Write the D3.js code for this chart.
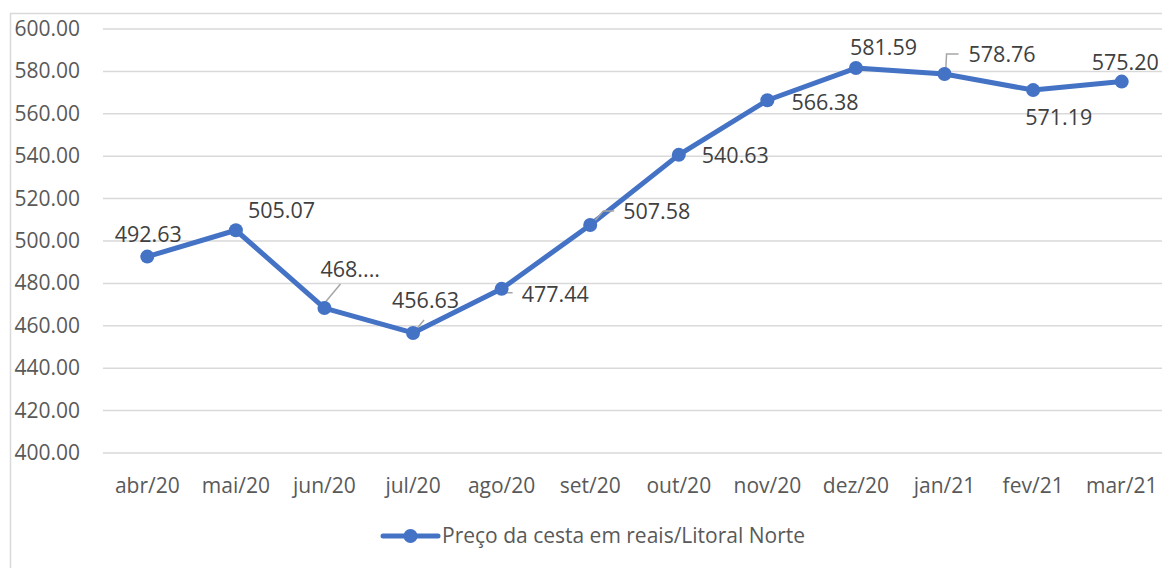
<!DOCTYPE html>
<html>
<head>
<meta charset="utf-8">
<script src="https://cdn.jsdelivr.net/npm/d3@7"></script>
<style>
  body { margin: 0; background: #fff; }
  text { font-family: "Open Sans", "Noto Sans", sans-serif; }
</style>
</head>
<body>
<div class="diagram"></div>
<script>
// data
const months = ["abr/20", "mai/20", "jun/20", "jul/20", "ago/20", "set/20",
                "out/20", "nov/20", "dez/20", "jan/21", "fev/21", "mar/21"];
const prices = [492.63, 505.07, 468.38, 456.63, 477.44, 507.58,
                540.63, 566.38, 581.59, 578.76, 571.19, 575.20];
const priceLabels = ["492.63", "505.07", "468....", "456.63", "477.44", "507.58",
                     "540.63", "566.38", "581.59", "578.76", "571.19", "575.20"];
const yTicks = [400, 420, 440, 460, 480, 500, 520, 540, 560, 580, 600];
const seriesName = "Preço da cesta em reais/Litoral Norte";

// label placement relative to the point: [dx, dy, anchor]
const labelPos = [
  [1, -15, "middle"], [12, -12, "start"], [-4, -31, "start"], [-21, -25, "start"],
  [20, 13, "start"], [33, -6, "start"], [23, 8, "start"], [24, 10, "start"],
  [-6, -13, "start"], [24, -12, "start"], [-8, 35, "start"], [-30, -12, "start"]
];
// leader lines (relative points), null where none
const leaders = [
  null, null, [[1, -6], [16, -24]], [[0, 0], [11, -13]],
  [[0, 0], [0, 4], [11, 4]], [[1, 0], [13, -14], [24, -14]],
  null, null, null, [[1, 0], [2, -20], [14, -20]], null, null
];

const W = 1162, H = 568;
const svg = d3.select(".diagram").append("svg")
  .attr("width", W).attr("height", H);

// chart frame
svg.append("rect")
  .attr("x", 10.5).attr("y", 13.5)
  .attr("width", 1300).attr("height", 700)
  .attr("fill", "none").attr("stroke", "#d9d9d9").attr("stroke-width", 1.5);

const x = d3.scaleBand().domain(months).range([103, 1166]);
const cx = d => x(d) + x.bandwidth() / 2;
const y = d3.scaleLinear().domain([400, 600]).range([453, 29]);

// gridlines
svg.append("g").selectAll("line").data(yTicks).join("line")
  .attr("x1", 103).attr("x2", 1166)
  .attr("y1", d => y(d)).attr("y2", d => y(d))
  .attr("stroke", "#d9d9d9").attr("stroke-width", 1.5);

// y axis labels
svg.append("g").selectAll("text").data(yTicks).join("text")
  .attr("x", 80).attr("y", d => y(d) + 7)
  .attr("text-anchor", "end")
  .style("font-size", "21px").attr("fill", "#595959")
  .text(d => d.toFixed(2));

// x axis labels
svg.append("g").selectAll("text").data(months).join("text")
  .attr("x", d => cx(d)).attr("y", 493)
  .attr("text-anchor", "middle")
  .style("font-size", "21px").attr("fill", "#595959")
  .text(d => d);

const pts = months.map((m, i) => ({ m, v: prices[i], i }));

// line
svg.append("path").datum(pts)
  .attr("fill", "none").attr("stroke", "#4472C4")
  .attr("stroke-width", 5).attr("stroke-linejoin", "round")
  .attr("d", d3.line().x(d => cx(d.m)).y(d => y(d.v)));

// leader lines
svg.append("g").selectAll("polyline").data(pts.filter(d => leaders[d.i])).join("polyline")
  .attr("points", d => leaders[d.i].map(p => [cx(d.m) + p[0], y(d.v) + p[1]].join(",")).join(" "))
  .attr("fill", "none").attr("stroke", "#a6a6a6").attr("stroke-width", 1.5);

// markers
svg.append("g").selectAll("circle").data(pts).join("circle")
  .attr("cx", d => cx(d.m)).attr("cy", d => y(d.v)).attr("r", 7)
  .attr("fill", "#4472C4");

// data labels
svg.append("g").selectAll("text").data(pts).join("text")
  .attr("x", d => cx(d.m) + labelPos[d.i][0])
  .attr("y", d => y(d.v) + labelPos[d.i][1])
  .attr("text-anchor", d => labelPos[d.i][2])
  .style("font-size", "21.5px").attr("fill", "#404040")
  .text(d => priceLabels[d.i]);

// legend
const lg = svg.append("g").attr("transform", "translate(383, 536)");
lg.append("line").attr("x1", 0).attr("x2", 55)
  .attr("stroke", "#4472C4").attr("stroke-width", 5).attr("stroke-linecap", "round");
lg.append("circle").attr("cx", 27.5).attr("r", 7).attr("fill", "#4472C4");
lg.append("text").attr("x", 59).attr("y", 7)
  .style("font-size", "21px").attr("fill", "#595959")
  .text(seriesName);
</script>
</body>
</html>
